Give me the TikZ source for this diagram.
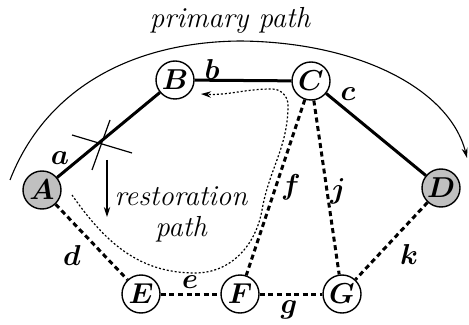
\documentclass[tikz,border=0pt]{standalone}
\usepackage{amsmath}
\usepackage{bm}
\usepackage{tikz}
\usetikzlibrary{arrows.meta}
\definecolor{endgray}{RGB}{192,192,192}

\begin{document}
\begin{tikzpicture}[x=0.5pt, y=-0.5pt,
          font=\fontsize{14.5}{15.5}\selectfont,
          vnode/.style={draw, circle, line width=0.7pt, fill=white,
                        minimum size=19pt, inner sep=0pt},
          endnode/.style={vnode, fill=endgray},
          lbl/.style={inner sep=0pt},
          work/.style={line width=1.5pt},
          spare/.style={line width=1.5pt, dash pattern=on 2.5pt off 1.8pt},
          arr/.style={-{Stealth[length=5pt,width=3.2pt]}}]
          \useasboundingbox (0,0) rectangle (469,325);
          % nodes
          \node[endnode] (A) at (42,190) {$\bm{A}$};
          \node[vnode] (B) at (175,80) {$\bm{B}$};
          \node[vnode] (C) at (311,81) {$\bm{C}$};
          \node[endnode] (D) at (441,188) {$\bm{D}$};
          \node[vnode] (E) at (141,294) {$\bm{E}$};
          \node[vnode] (F) at (240,294) {$\bm{F}$};
          \node[vnode] (G) at (342,294) {$\bm{G}$};
          % working links
          \draw[work] (A) -- (B); \draw[work] (B) -- (C); \draw[work] (C) -- (D);
          % spare links
          \draw[spare] (A) -- (E); \draw[spare] (E) -- (F); \draw[spare] (F) -- (G);
          \draw[spare] (C) -- (F); \draw[spare] (C) -- (G); \draw[spare] (D) -- (G);
          % link labels
          \node[lbl] (la) at (60,158) {$\bm{a}$};
          \node[lbl] (lb) at (212,70) {$\bm{b}$};
          \node[lbl] (lc) at (348,94) {$\bm{c}$};
          \node[lbl] (ld) at (72,255) {$\bm{d}$};
          \node[lbl] (le) at (190,282) {$\bm{e}$};
          \node[lbl] (lf) at (291,187) {$\bm{f}$};
          \node[lbl] (lj) at (338,191) {$\bm{j}$};
          \node[lbl] (lk) at (409,254) {$\bm{k}$};
          \node[lbl] (lg) at (289,310) {$\bm{g}$};
          % failure on link a
          \draw[line width=0.6pt] (72,135) -- (132,153);
          \draw[line width=0.6pt] (110,120) -- (92,170);
          % primary path
          \coordinate (pstart) at (10,180);
          \coordinate (pend) at (467,158);
          \draw[line width=0.55pt, -{Stealth[length=5pt,width=3pt]}] (pstart)
            .. controls (45,90) and (130,42) .. (240,41)
            .. controls (360,42) and (450,90) .. (pend);
          \node[anchor=base, font=\fontsize{14.5}{15.5}\selectfont\itshape] (ptxt) at (230,28) {primary path};
          % restoration path
          \coordinate (rs) at (107,160);
          \coordinate (re) at (107,217);
          \draw[line width=0.55pt, arr] (rs) -- (re);
          \node[align=center, font=\fontsize{14.5}{15.5}\selectfont\itshape] (rtxt) at (181,214) {restoration\\path};
          \coordinate (dstart) at (72,195);
          \coordinate (dtip) at (201,94);
          \draw[line width=0.6pt, dash pattern=on 1pt off 1pt, arr] (dstart) to[out=-55,in=180] (195,273)
            to[out=0,in=-100] (262,210) to[out=80,in=-90] (288,105)
            to[out=90,in=0] (272,89) to[out=180,in=-3] (dtip);
        \end{tikzpicture}
\end{document}
